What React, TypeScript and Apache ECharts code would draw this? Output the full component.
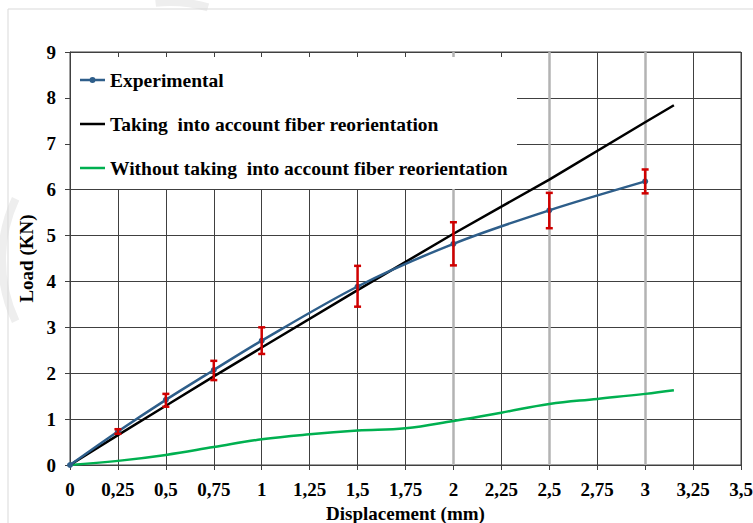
import React, { useEffect, useRef } from "react";
import * as echarts from "echarts";

// Experimental load–displacement measurements (mean and scatter range)
const expDisp = [0, 0.25, 0.5, 0.75, 1, 1.5, 2, 2.5, 3];
const expLoad = [0, 0.73, 1.42, 2.07, 2.71, 3.89, 4.82, 5.55, 6.18];
const expLow = [0, 0.68, 1.27, 1.85, 2.42, 3.45, 4.35, 5.16, 5.92];
const expHigh = [0, 0.78, 1.55, 2.27, 3.0, 4.34, 5.29, 5.93, 6.44];

// Model taking fiber reorientation into account
const reorDisp = [0, 0.25, 0.5, 0.75, 1, 1.5, 2, 2.5, 3, 3.15];
const reorLoad = [0, 0.65, 1.29, 1.93, 2.56, 3.81, 5.04, 6.22, 7.47, 7.84];

// Model without fiber reorientation
const noReorDisp = [0, 0.25, 0.5, 0.75, 1, 1.25, 1.5, 1.75, 2, 2.25, 2.5, 2.75, 3, 3.15];
const noReorLoad = [0, 0.09, 0.22, 0.39, 0.56, 0.67, 0.75, 0.8, 0.96, 1.14, 1.33, 1.44, 1.55, 1.63];

// Highlighted vertical reference lines
const refLines = [2, 2.5, 3];

const NAME_EXP = "Experimental";
const NAME_REOR = "Taking  into account fiber reorientation";
const NAME_NOREOR = "Without taking  into account fiber reorientation";

const FONT = "'Liberation Serif', 'Times New Roman', serif";

// Legend glyphs: plain stroke, and stroke with a dot marker
const ICON_LINE = "path://M0,0H25V2.5H0Z";
const ICON_LINE_DOT =
  "path://M0,5.75H25V8.25H0Z M9.5,7a3,3 0 1,1 6,0a3,3 0 1,1 -6,0Z";

export default function App() {
  const ref = useRef<HTMLDivElement>(null);

  useEffect(() => {
    if (!ref.current) return;
    const chart = echarts.init(ref.current, undefined, { renderer: "svg" });

    const pair = (xs: number[], ys: number[]) => xs.map((x, i) => [x, ys[i]]);
    const errData = expDisp
      .map((x, i) => [x, expLow[i], expHigh[i]])
      .filter((d) => d[2] > d[1]);
    const deg = Math.PI / 180;

    const option: any = {
      animation: false,
      backgroundColor: "#ffffff",
      textStyle: { fontFamily: FONT },
      grid: {
        left: 70,
        right: 12,
        top: 52,
        bottom: 58,
        outerBoundsMode: "none",
        containLabel: false,
        show: true,
        borderColor: "#404040",
        borderWidth: 1,
        backgroundColor: "transparent",
      },
      xAxis: {
        type: "value",
        min: 0,
        max: 3.5,
        interval: 0.25,
        name: "Displacement (mm)",
        nameLocation: "middle",
        nameGap: 37,
        nameTextStyle: { fontFamily: FONT, fontWeight: "bold", fontSize: 19, color: "#000" },
        axisLine: { lineStyle: { color: "#404040", width: 1 } },
        axisTick: { show: true, length: 5, lineStyle: { color: "#404040" } },
        axisLabel: {
          fontFamily: FONT,
          fontWeight: "bold",
          fontSize: 19,
          color: "#000",
          margin: 15,
          formatter: (v: number) => String(v).replace(".", ","),
        },
        splitLine: { show: true, lineStyle: { color: "#404040", width: 1 } },
      },
      yAxis: {
        type: "value",
        min: 0,
        max: 9,
        interval: 1,
        name: "Load (KN)",
        nameLocation: "middle",
        nameGap: 34,
        nameTextStyle: { fontFamily: FONT, fontWeight: "bold", fontSize: 19, color: "#000" },
        axisLine: { show: true, lineStyle: { color: "#404040", width: 1 } },
        axisTick: { show: true, length: 5, lineStyle: { color: "#404040" } },
        axisLabel: {
          fontFamily: FONT,
          fontWeight: "bold",
          fontSize: 19,
          color: "#000",
          margin: 14,
        },
        splitLine: { show: true, lineStyle: { color: "#404040", width: 1 } },
      },
      legend: {
        orient: "vertical",
        left: 80,
        top: 70,
        padding: 0,
        itemWidth: 25,
        itemHeight: 14,
        itemGap: 24,
        data: [
          { name: NAME_EXP, icon: ICON_LINE_DOT },
          { name: NAME_REOR, icon: ICON_LINE },
          { name: NAME_NOREOR, icon: ICON_LINE },
        ],
        textStyle: {
          fontFamily: FONT,
          fontWeight: "bold",
          fontSize: 19.5,
          lineHeight: 20,
          color: "#000",
        },
      },
      graphic: [
        {
          type: "rect",
          z: -10,
          silent: true,
          shape: { x: 8, y: 9, width: 800, height: 600 },
          style: { fill: "none", stroke: "#d9d9d9", lineWidth: 1 },
        },
        // faint background stamp strokes
        {
          type: "arc",
          z: -11,
          silent: true,
          shape: { cx: 147, cy: 260, r: 145, startAngle: 155 * deg, endAngle: 205 * deg, clockwise: true },
          style: { stroke: "#eeeeee", lineWidth: 8, fill: "none" },
        },
        {
          type: "arc",
          z: -11,
          silent: true,
          shape: { cx: 170, cy: 140, r: 138, startAngle: -96 * deg, endAngle: -74 * deg, clockwise: true },
          style: { stroke: "#eeeeee", lineWidth: 8, fill: "none" },
        },
        {
          type: "rect",
          z: 3,
          silent: true,
          shape: { x: 71, y: 57, width: 446, height: 132 },
          style: { fill: "#ffffff", stroke: "none" },
        },
      ],
      series: [
        {
          name: "refLines",
          type: "line",
          z: 1,
          data: [],
          silent: true,
          markLine: {
            z: 1,
            silent: true,
            symbol: "none",
            label: { show: false },
            lineStyle: { color: "#b3b3b3", width: 2.5, type: "solid" },
            data: refLines.map((x) => ({ xAxis: x })),
          },
        },
        {
          name: NAME_NOREOR,
          type: "line",
          z: 2,
          data: pair(noReorDisp, noReorLoad),
          smooth: 0.4,
          showSymbol: false,
          symbol: "none",
          lineStyle: { color: "#00B050", width: 2.5 },
          itemStyle: { color: "#00B050" },
        },
        {
          name: NAME_REOR,
          type: "line",
          z: 2,
          data: pair(reorDisp, reorLoad),
          showSymbol: false,
          symbol: "none",
          lineStyle: { color: "#000000", width: 2.5 },
          itemStyle: { color: "#000000" },
        },
        {
          name: NAME_EXP,
          type: "line",
          z: 2,
          data: pair(expDisp, expLoad),
          smooth: 0.3,
          symbol: "circle",
          symbolSize: 6,
          lineStyle: { color: "#2E5E8A", width: 2.5 },
          itemStyle: { color: "#2E5E8A" },
        },
        {
          name: "errorBars",
          type: "custom",
          z: 2.5,
          silent: true,
          data: errData,
          encode: { x: 0, y: [1, 2] },
          renderItem: (_params: any, api: any) => {
            const x = api.value(0);
            const lo = api.coord([x, api.value(1)]);
            const hi = api.coord([x, api.value(2)]);
            const cap = 3.5;
            const style = { stroke: "#D00000", lineWidth: 2.5 };
            return {
              type: "group",
              children: [
                { type: "line", shape: { x1: lo[0], y1: lo[1], x2: hi[0], y2: hi[1] }, style },
                { type: "line", shape: { x1: hi[0] - cap, y1: hi[1], x2: hi[0] + cap, y2: hi[1] }, style },
                { type: "line", shape: { x1: lo[0] - cap, y1: lo[1], x2: lo[0] + cap, y2: lo[1] }, style },
              ],
            };
          },
        },
      ],
    };

    chart.setOption(option);
    return () => chart.dispose();
  }, []);

  return (
    <div
      ref={ref}
      style={{ position: "fixed", left: 0, top: 0, width: 753, height: 523 }}
    />
  );
}
